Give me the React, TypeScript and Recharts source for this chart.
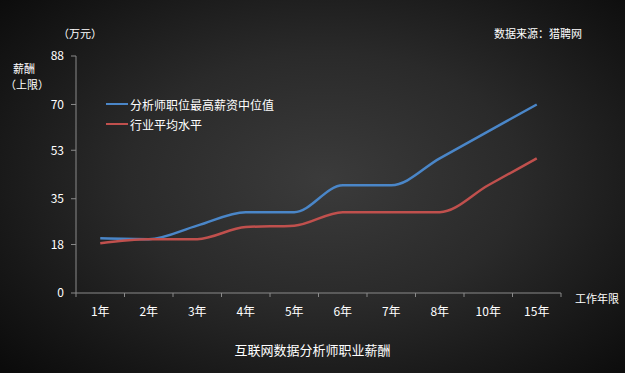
import React from 'react';
import { LineChart, Line, XAxis, YAxis } from 'recharts';

const years = ['1年', '2年', '3年', '4年', '5年', '6年', '7年', '8年', '10年', '15年'];
const topMedian = [20.3, 20, 25, 30, 30, 40, 40, 50, 60, 70];
const industryAvg = [18.5, 20, 20, 24.5, 25, 30, 30, 30, 40, 50];
const yTicks = [0, 18, 35, 53, 70, 88];

const seriesNames = ['分析师职位最高薪资中位值', '行业平均水平'];
const colors = ['#4a86c8', '#c0504d'];

const data = years.map((name, i) => ({
  name,
  top: topMedian[i],
  avg: industryAvg[i],
}));

const W = 625;
const H = 373;
const margin = { top: 56, right: 64, bottom: 50, left: 0 };
const yAxisWidth = 76;
const band = (W - margin.left - yAxisWidth - margin.right) / years.length;
const font = '"Noto Sans CJK SC", "Noto Sans", sans-serif';
const axisColor = '#8a8a8a';

const XTick = (props: any) => {
  const { x, y, payload, index } = props;
  const last = index === years.length - 1;
  return (
    <g>
      <line x1={x - band / 2} y1={y - 8} x2={x - band / 2} y2={y - 4} stroke={axisColor} />
      {last && <line x1={x + band / 2} y1={y - 8} x2={x + band / 2} y2={y - 4} stroke={axisColor} />}
      <text x={x} y={y + 15} textAnchor="middle" fill="#fff" fontSize={12} fontFamily={font}>
        {payload.value}
      </text>
    </g>
  );
};

const label = (text: string, style: React.CSSProperties) => (
  <div
    style={{
      position: 'absolute',
      color: '#fff',
      fontFamily: font,
      fontSize: 11,
      lineHeight: '13px',
      whiteSpace: 'nowrap',
      ...style,
    }}
  >
    {text}
  </div>
);

export default function App() {
  return (
    <div
      style={{
        position: 'absolute',
        left: 0,
        top: 0,
        width: W,
        height: H,
        background: 'radial-gradient(ellipse 70% 75% at 52% 48%, #3b3b3b 0%, #2a2a2a 45%, #161616 80%, #0b0b0b 100%)',
      }}
    >
      <LineChart width={W} height={H} data={data} margin={margin}>
        <XAxis
          dataKey="name"
          axisLine={{ stroke: axisColor }}
          tickLine={false}
          tick={<XTick />}
          interval={0}
          height={30}
          padding={{ left: band / 2, right: band / 2 }}
        />
        <YAxis
          type="number"
          domain={[0, 88]}
          ticks={yTicks}
          interval={0}
          width={yAxisWidth}
          axisLine={{ stroke: axisColor }}
          tickLine={{ stroke: axisColor }}
          tickSize={5}
          tickMargin={7}
          tick={{ fill: '#fff', fontSize: 12, fontFamily: font }}
        />
        <Line
          type="monotone"
          dataKey="top"
          name={seriesNames[0]}
          stroke={colors[0]}
          strokeWidth={2.5}
          dot={false}
          isAnimationActive={false}
        />
        <Line
          type="monotone"
          dataKey="avg"
          name={seriesNames[1]}
          stroke={colors[1]}
          strokeWidth={2.5}
          dot={false}
          isAnimationActive={false}
        />
      </LineChart>
      <div style={{ position: 'absolute', left: 106, top: 94, fontFamily: font, fontSize: 12, color: '#fff' }}>
        {seriesNames.map((n, i) => (
          <div key={n} style={{ display: 'flex', alignItems: 'center', height: 20 }}>
            <span style={{ display: 'inline-block', width: 22, height: 2, background: colors[i], marginRight: 2 }} />
            {n}
          </div>
        ))}
      </div>
      {label('（万元）', { left: 58, top: 27 })}
      {label('薪酬', { left: 13, top: 62 })}
      {label('（上限）', { left: 5, top: 78 })}
      {label('数据来源：猎聘网', { left: 494, top: 27 })}
      {label('工作年限', { left: 575, top: 292 })}
      {label('互联网数据分析师职业薪酬', { left: 0, width: W, textAlign: 'center', top: 343, fontSize: 13, lineHeight: '14px' })}
    </div>
  );
}
